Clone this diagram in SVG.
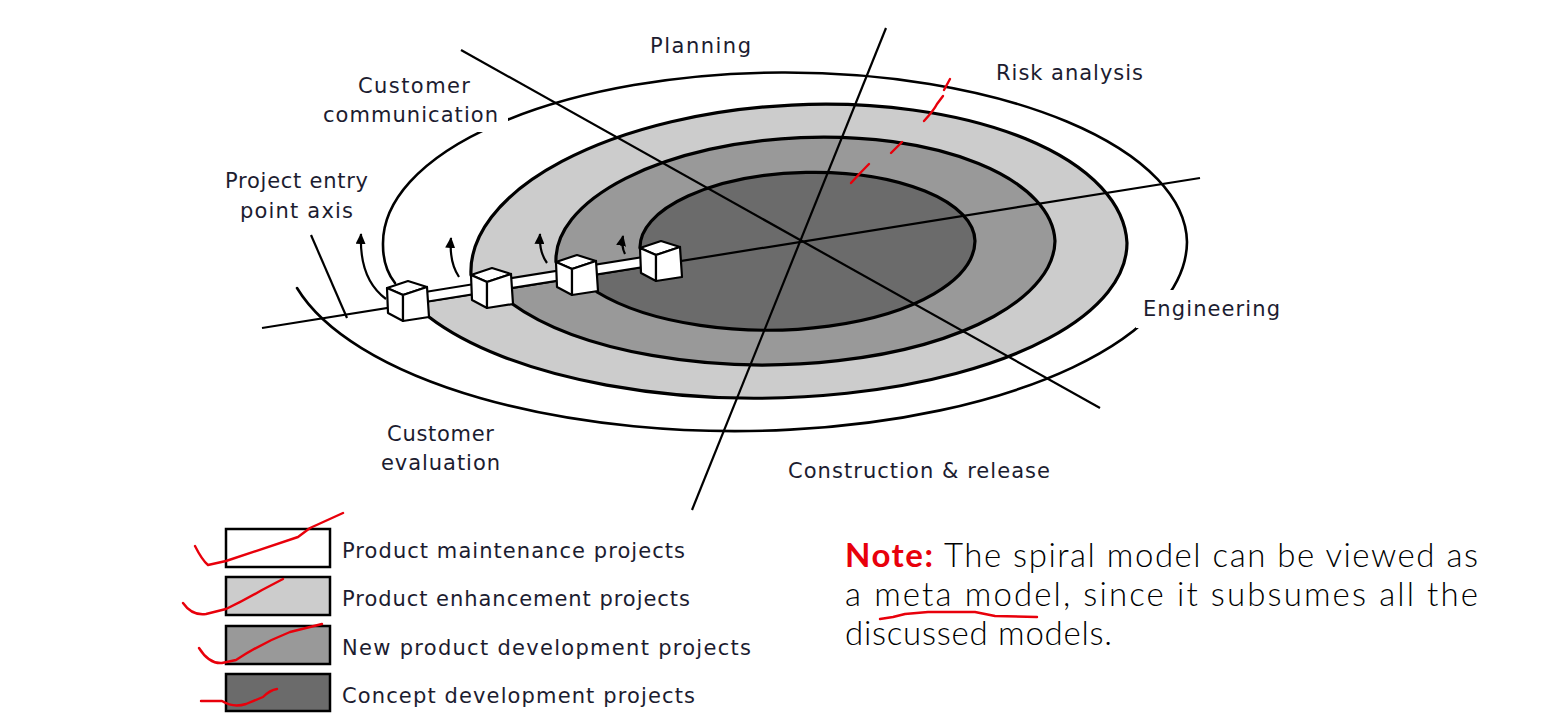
<svg xmlns="http://www.w3.org/2000/svg" width="1551" height="716" viewBox="0 0 1551 716">
<defs>
<style>
.lbl{font-family:"DejaVu Sans","Liberation Sans",sans-serif;font-size:21px;fill:#1c1c30}
.leg{font-family:"DejaVu Sans","Liberation Sans",sans-serif;font-size:21px;fill:#1c1c30}
.ring{fill:none;stroke:#000;stroke-width:3.2;stroke-linecap:round}
.ax{stroke:#000;stroke-width:2.2;fill:none}
.red{fill:none;stroke:#e8000b;stroke-width:2.4;stroke-linecap:round;stroke-linejoin:round}
.cube polygon{fill:#fff;stroke:#000;stroke-width:2.2;stroke-linejoin:round}
.arr{fill:none;stroke:#000;stroke-width:2.2;marker-end:url(#ah)}
.note{font-family:"Lato","Open Sans",sans-serif;font-size:33px;font-weight:300;fill:#000}
.box{stroke:#000;stroke-width:2.5}
</style>
<marker id="ah" markerUnits="userSpaceOnUse" markerWidth="11" markerHeight="10" viewBox="0 0 11 10" refX="10" refY="5" orient="auto">
<path d="M0,0 L11,5 L0,10 z" fill="#000"/>
</marker>
<g id="cube" class="cube">
<polygon points="0,0 21,-7 40,-1 16,7"/>
<polygon points="0,0 16,7 16,33 1,25"/>
<polygon points="16,7 40,-1 42,29 16,33"/>
</g>
</defs>
<rect width="1551" height="716" fill="#fff"/>

<g id="fills">
<path d="M471,275 A328,154 -2.8 0 1 1127,243 A371.5,155 0 0 1 429,317 L429,301 L471,294 Z" fill="#cccccc"/>
<path d="M556,262 A249.5,114 -2.4 0 1 1055,241 A292,125 0 0 1 511,303 L511,288 L556,281 Z" fill="#999999"/>
<path d="M640,248 A167.4,72 -1.2 0 1 975,241 A208,90 0 0 1 597,292 L597,274 L640,267 Z" fill="#6b6b6b"/>
</g>

<g id="connectors">
<line class="ax" x1="461" y1="50" x2="1100" y2="408"/>
<line class="ax" x1="886" y1="28" x2="692" y2="510"/>
<line class="ax" x1="262" y1="328" x2="1200" y2="178"/>
<line class="ax" x1="311" y1="235" x2="347" y2="318"/>
<path class="ring" style="stroke-width:2.6" d="M395,283 Q383,268 383,245 A402,171 0 0 1 1187,242 A452,190 0 0 1 297,288"/>
<path class="ring" d="M471,275 A328,154 -2.8 0 1 1127,243 A371.5,155 0 0 1 429,317"/>
<path class="ring" d="M556,262 A249.5,114 -2.4 0 1 1055,241 A292,125 0 0 1 511,303"/>
<path class="ring" d="M640,248 A167.4,72 -1.2 0 1 975,241 A208,90 0 0 1 597,292"/>
<polygon points="425,291.9 645,256.7 645,266.7 425,301.9" fill="#fff" stroke="#000" stroke-width="2"/>
<path class="arr" d="M386,299 Q359,279 361,234"/>
<path class="arr" d="M459,277 Q449,262 451,238"/>
<path class="arr" d="M547,263 Q539,252 540,234"/>
<path class="arr" d="M625,254 Q621,246 623,236"/>
</g>

<g id="cube1"><use href="#cube" x="387" y="288"/></g>
<g id="cube2"><use href="#cube" x="471" y="275"/></g>
<g id="cube3"><use href="#cube" x="556" y="262"/></g>
<g id="cube4"><use href="#cube" x="640" y="248"/></g>

<g id="labels">
<text class="lbl" x="650" y="53" textLength="101">Planning</text>
<text class="lbl" x="358" y="93" textLength="112">Customer</text>
<rect x="316" y="100" width="192" height="32" fill="#fff"/>
<text class="lbl" x="323" y="122" textLength="175">communication</text>
<text class="lbl" x="225" y="188" textLength="143">Project entry</text>
<text class="lbl" x="240" y="218" textLength="113">point axis</text>
<text class="lbl" x="996" y="80" textLength="147">Risk analysis</text>
<rect x="1136" y="290" width="152" height="38" fill="#fff"/>
<text class="lbl" x="1143" y="316" textLength="137">Engineering</text>
<text class="lbl" x="387" y="441" textLength="107">Customer</text>
<text class="lbl" x="381" y="470" textLength="119">evaluation</text>
<text class="lbl" x="788" y="478" textLength="262">Construction &amp; release</text>
</g>

<g id="legend">
<rect class="box" x="226" y="529" width="104" height="38" fill="#fff"/>
<rect class="box" x="226" y="577" width="104" height="38" fill="#cccccc"/>
<rect class="box" x="226" y="626" width="104" height="38" fill="#999999"/>
<rect class="box" x="226" y="674" width="104" height="37" fill="#6b6b6b"/>
<text class="leg" x="342" y="558" textLength="343">Product maintenance projects</text>
<text class="leg" x="342" y="606" textLength="348">Product enhancement projects</text>
<text class="leg" x="342" y="655" textLength="409">New product development projects</text>
<text class="leg" x="342" y="703" textLength="353">Concept development projects</text>
</g>

<g id="note">
<text class="note" x="845" y="567" textLength="633"><tspan fill="#e8000b" font-weight="bold">Note:</tspan> The spiral model can be viewed as</text>
<text class="note" x="845" y="606" textLength="633">a meta model, since it subsumes all the</text>
<text class="note" x="845" y="645" textLength="267">discussed models.</text>
</g>

<g id="annotations">
<path class="red" d="M944,90 L950,79"/>
<path class="red" d="M924,121 Q934,110 937,104 L943,96"/>
<path class="red" d="M891,153 L902,142"/>
<path class="red" d="M851,183 Q860,173 869,164"/>
<path class="red" d="M195,546 Q202,560 208,565 L226,561 Q265,548 298,537 L310,528 L343,513"/>
<path class="red" d="M183,603 Q192,616 206,614 L226,609 Q245,600 262,590 L283,579"/>
<path class="red" d="M199,648 Q209,664 222,663 L236,660 Q262,643 290,632 L322,624"/>
<path class="red" d="M201,701 L222,701 Q233,708 246,704 L263,697 Q270,690 277,689"/>
<path class="red" d="M880,619 L893,617 L905,614 L928,612 L975,612 L995,616 L1037,617"/>
</g>
</svg>
